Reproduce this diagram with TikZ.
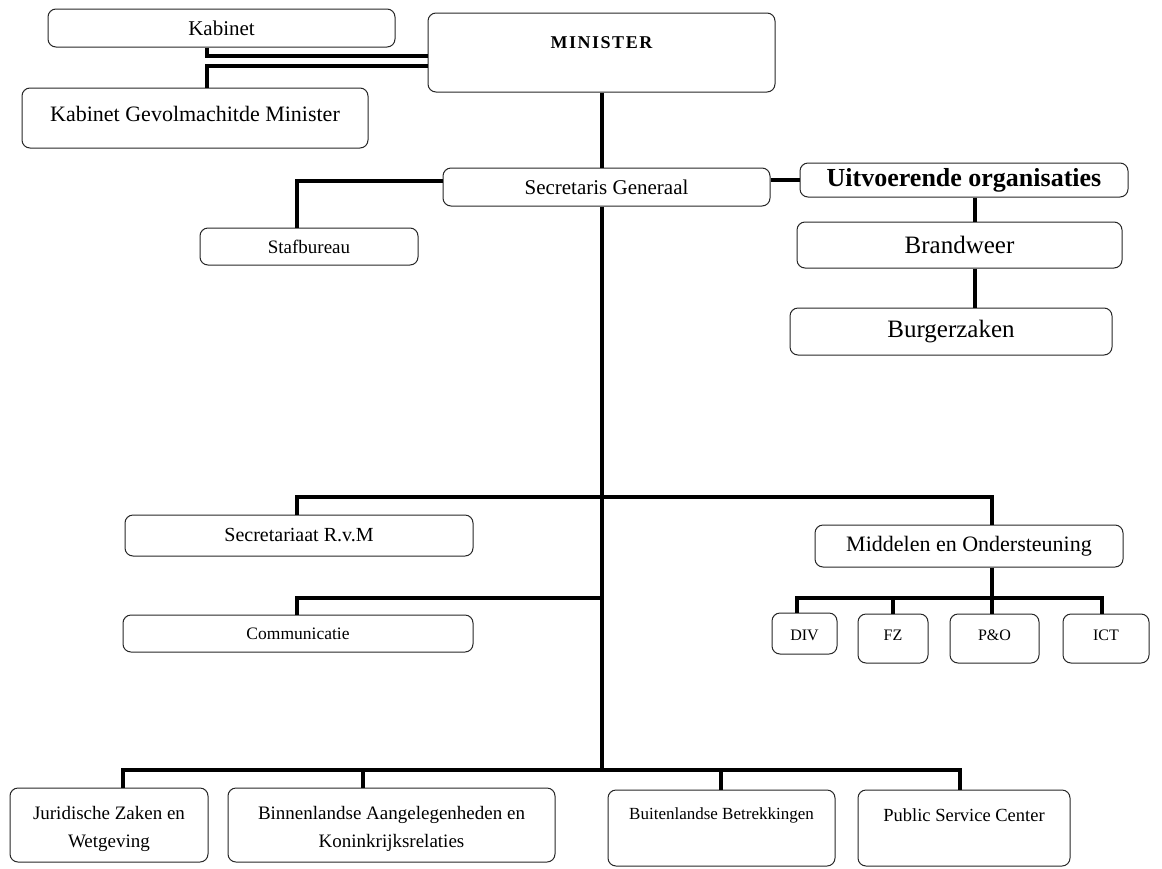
\documentclass[tikz,border=0pt]{standalone}
\usepackage{fontspec}
\setmainfont{Liberation Serif}
\begin{document}
\begin{tikzpicture}[x=1pt,y=-1pt,
  box/.style={draw=black!85,line width=1pt,rounded corners=8pt,inner sep=0pt},
  conn/.style={line width=4.2pt,black},
  txt/.style={inner sep=0pt,anchor=center},
  fs/.style={font=\fontsize{#1}{#1}\selectfont},
  fs2/.style={font=\fontsize{#1}{28}\selectfont,align=center}]
\useasboundingbox (0,0) rectangle (1162,868);
% top
\node[box,minimum width=347,minimum height=38,fs=21] (kab) at (221.5,28) {Kabinet};
\node[box,minimum width=346,minimum height=60] (kgm) at (195,118) {};
\node[txt,fs=22] (kgmt) at (195,114) {Kabinet Gevolmachitde Minister};
\node[box,minimum width=347,minimum height=79] (min) at (601.5,52.5) {};
\node[txt,fs=18] (mint) at (601.5,43) {\bfseries M\kern1.5ptI\kern1.5ptN\kern1.5ptI\kern1.5ptS\kern1.5ptT\kern1.5ptE\kern1.5ptR};
\coordinate (k1) at (207,56);
\coordinate (k2) at (207,66);
\draw[conn] (kab.south -| k1) |- (k1 -| min.west);
\draw[conn] (kgm.north -| k2) |- (k2 -| min.west);
% secretaris
\node[box,minimum width=327,minimum height=38,fs=21] (sg) at (606.5,187) {Secretaris Generaal};
\node[box,minimum width=218,minimum height=37,fs=19] (staf) at (309,246.5) {Stafbureau};
\node[box,minimum width=328,minimum height=34,fs=26] (uitv) at (964,180) {\bfseries Uitvoerende organisaties};
\node[box,minimum width=325,minimum height=46,fs=25] (brand) at (959.5,245) {Brandweer};
\node[box,minimum width=322,minimum height=47,fs=25] (burg) at (951,331.5) {Burgerzaken};
\coordinate (mx) at (602,0);
\draw[conn] (min.south -| mx) -- (sg.north -| mx);
\coordinate (s1) at (297,181);
\draw[conn] (sg.west |- s1) -| (staf.north -| s1);
\draw[conn] (sg.east |- 0,180) -- (uitv.west |- 0,180);
\coordinate (ux) at (975,0);
\draw[conn] (uitv.south -| ux) -- (brand.north -| ux);
\draw[conn] (brand.south -| ux) -- (burg.north -| ux);
% middle
\node[box,minimum width=348,minimum height=41,fs=20] (srvm) at (299,535.5) {Secretariaat R.v.M};
\node[box,minimum width=308,minimum height=42,fs=22] (mo) at (969,546) {Middelen en Ondersteuning};
\node[box,minimum width=350,minimum height=37,fs=17.5] (comm) at (298,633.5) {Communicatie};
\coordinate (b1L) at (297,497);
\coordinate (b1R) at (992,497);
\draw[conn] (srvm.north -| b1L) -- (b1L) -- (b1R) -- (mo.north -| b1R);
\coordinate (cL) at (297,598);
\draw[conn] (comm.north -| cL) -- (cL) -- (cL -| mx);
% sub units
\node[box,minimum width=65,minimum height=41] (div) at (804.5,633.5) {};
\node[box,minimum width=70,minimum height=49] (fz) at (893,638.5) {};
\node[box,minimum width=89,minimum height=49] (po) at (994.5,638.5) {};
\node[box,minimum width=86,minimum height=49] (ict) at (1106,638.5) {};
\node[txt,fs=16] (divt) at (804.5,635) {DIV};
\node[txt,fs=16] (fzt) at (893,635) {FZ};
\node[txt,fs=16] (pot) at (994.5,635) {P\&O};
\node[txt,fs=16] (ictt) at (1106,635) {ICT};
\coordinate (d0) at (992,598);
\draw[conn] (mo.south -| d0) -- (d0);
\draw[conn] (div.north -| 797,0) |- (d0) -| (ict.north -| 1102,0);
\draw[conn] (fz.north -| 893,0) -- (893,598);
\draw[conn] (po.north -| 992,0) -- (992,598);
% bottom
\node[box,minimum width=198,minimum height=74] (jur) at (109,825) {};
\node[txt,fs2=19] (jurt) at (109,829) {Juridische Zaken en\\Wetgeving};
\node[box,minimum width=327,minimum height=74] (bin) at (391.5,825) {};
\node[txt,fs2=19] (bint) at (391.5,829) {Binnenlandse Aangelegenheden en\\Koninkrijksrelaties};
\node[box,minimum width=227,minimum height=76] (buit) at (721.5,828) {};
\node[txt,fs=17] (buitt) at (721.5,815) {Buitenlandse Betrekkingen};
\node[box,minimum width=212,minimum height=76] (psc) at (964,828) {};
\node[txt,fs=18.5] (psct) at (964,815) {Public Service Center};
\coordinate (b2) at (0,770);
\draw[conn] (sg.south -| mx) -- (b2 -| mx);
\draw[conn] (jur.north -| 123,0) |- (b2 -| 960,0) -- (psc.north -| 960,0);
\draw[conn] (bin.north -| 363,0) -- (363,770);
\draw[conn] (buit.north -| 721,0) -- (721,770);
\end{tikzpicture}
\end{document}
